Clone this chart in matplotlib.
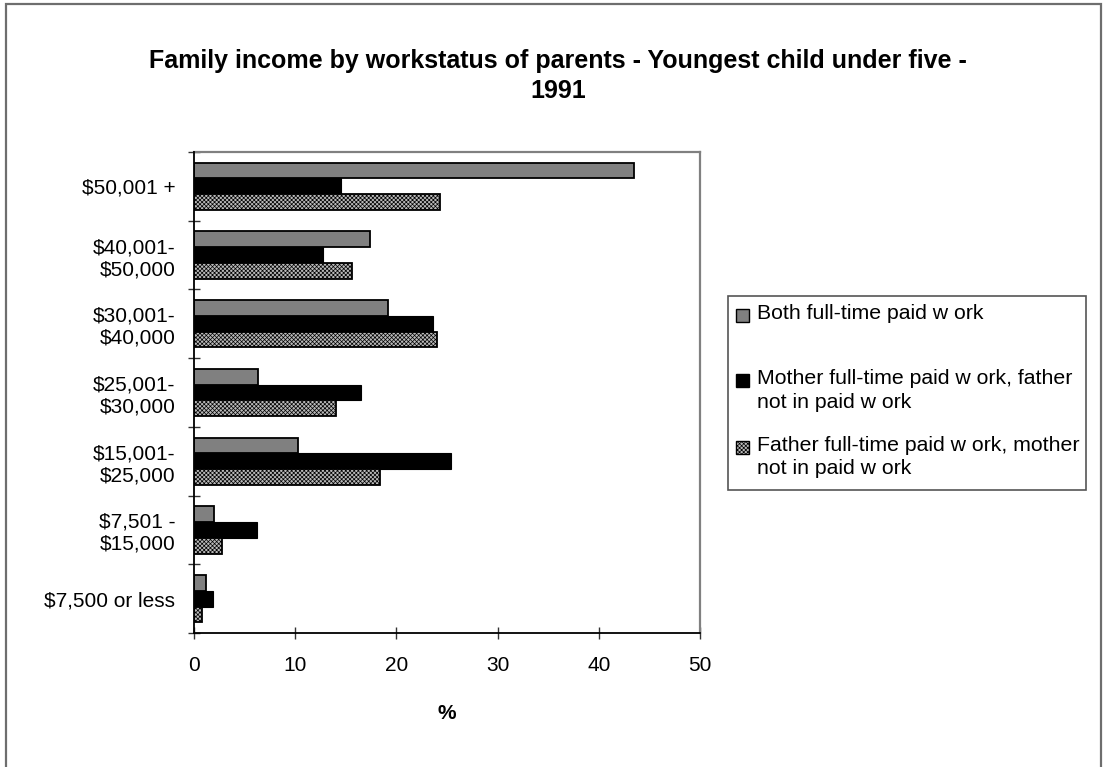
import matplotlib
matplotlib.use("Agg")
import matplotlib.pyplot as plt
from matplotlib.patches import Rectangle
import numpy as np

plt.rcParams['font.family'] = ['Liberation Sans', 'DejaVu Sans']
plt.rcParams['hatch.linewidth'] = 0.5
plt.rcParams['hatch.color'] = '#6a6a6a'

# ---- data ----
categories = ["$50,001 +", "$40,001-\n$50,000", "$30,001-\n$40,000", "$25,001-\n$30,000",
              "$15,001-\n$25,000", "$7,501 -\n$15,000", "$7,500 or less"]
series_names = ["Both full-time paid w ork",
                "Mother full-time paid w ork, father\nnot in paid w ork",
                "Father full-time paid w ork, mother\nnot in paid w ork"]
both_ft = [43.5, 17.4, 19.2, 6.3, 10.3, 2.0, 1.15]
mother_ft = [14.5, 12.7, 23.6, 16.5, 25.4, 6.2, 1.85]
father_ft = [24.3, 15.6, 24.0, 14.0, 18.4, 2.8, 0.8]
x_ticks = [0, 10, 20, 30, 40, 50]
title = "Family income by workstatus of parents - Youngest child under five -\n1991"
x_label = "%"

W, H = 1107, 767
fig = plt.figure(figsize=(W / 100, H / 100), dpi=100)

def fx(px):
    return px / W

def fy(py):
    return 1 - py / H

# figure border
fig.patches.append(Rectangle((fx(6), fy(775)), fx(1101) - fx(6), fy(4) - fy(775),
                             transform=fig.transFigure, fill=False,
                             edgecolor='#6e6e6e', linewidth=1.6))

ax = fig.add_axes([fx(194), fy(633), fx(700) - fx(194), fy(152) - fy(633)])

n = len(categories)
centers = np.arange(n) + 0.5
bh = 0.229
styles = [
    dict(color='#808080', edgecolor='black', linewidth=1.3),
    dict(color='black', edgecolor='black', linewidth=0.8),
    dict(color='#b9b9b9', edgecolor='black', linewidth=1.3, hatch='xxxxxxxx'),
]
for k, (vals, st) in enumerate(zip([both_ft, mother_ft, father_ft], styles)):
    ax.barh(centers + (k - 1) * bh, vals, height=bh, zorder=3, **st)

ax.set_xlim(0, 50)
ax.set_ylim(n, 0)
ax.set_xticks(x_ticks)
ax.set_xticklabels([str(v) for v in x_ticks], fontsize=15)
ax.set_yticks(np.arange(n + 1))
ax.set_yticklabels([])
ax.set_yticks(centers, minor=True)
ax.set_yticklabels(categories, minor=True, fontsize=15, ha='right')
ax.tick_params(axis='y', which='minor', length=0, pad=13.5)
ax.tick_params(axis='y', which='major', direction='inout', length=9, width=1, color='#333333')
ax.tick_params(axis='x', which='major', direction='inout', length=9, width=1, color='#333333', pad=12)

for s in ['left', 'bottom']:
    ax.spines[s].set_color('black')
    ax.spines[s].set_linewidth(1.3)
for s in ['top', 'right']:
    ax.spines[s].set_color('#808080')
    ax.spines[s].set_linewidth(1.6)
ax.spines['left'].set_zorder(4)

ax.set_xlabel(x_label, fontsize=15, fontweight='bold', labelpad=21)

fig.text(fx(558), fy(76), title, ha='center', va='center', fontsize=18,
         fontweight='bold', linespacing=1.3)

# legend (manual, Excel-like layout)
fig.patches.append(Rectangle((fx(728), fy(490)), fx(1086) - fx(728), fy(296) - fy(490),
                             transform=fig.transFigure, fill=True, facecolor='white',
                             edgecolor='#555555', linewidth=1.2))
entry_tops = [315, 380, 447]
for k, (name, st) in enumerate(zip(series_names, styles)):
    yc = entry_tops[k]
    fig.patches.append(Rectangle((fx(736), fy(yc + 7)), fx(13), fy(0) - fy(13),
                                 transform=fig.transFigure,
                                 facecolor=st['color'], edgecolor='black',
                                 linewidth=1.0, hatch=st.get('hatch')))
    fig.text(fx(757), fy(yc - 11), name, ha='left', va='top', fontsize=15.3,
             linespacing=1.3)

fig.savefig("out.png", dpi=100)
